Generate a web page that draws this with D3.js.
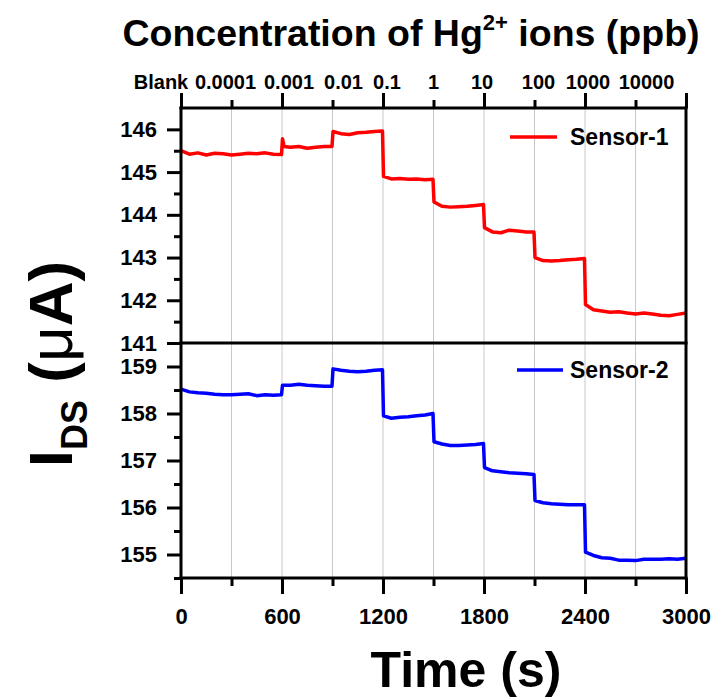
<!DOCTYPE html>
<html>
<head>
<meta charset="utf-8">
<script src="https://cdn.jsdelivr.net/npm/d3@7/dist/d3.min.js"></script>
<style>
  body { margin: 0; background: #fff; }
  svg { display: block; font-family: "Liberation Sans", Arial, Helvetica, sans-serif; font-weight: bold; }
</style>
</head>
<body>
<div id="chart"></div>
<script>
// time axis (s)
const times = [0, 50, 100, 150, 200, 250, 300, 350, 400, 450, 500, 550, 597,
  603, 612, 650, 700, 750, 800, 850, 897,
  903, 950, 1000, 1050, 1100, 1150, 1197,
  1203, 1250, 1300, 1350, 1400, 1450, 1497,
  1503, 1550, 1600, 1650, 1700, 1750, 1797,
  1803, 1850, 1900, 1950, 2000, 2050, 2097,
  2103, 2150, 2200, 2250, 2300, 2350, 2397,
  2403, 2450, 2500, 2550, 2600, 2650, 2700, 2750, 2800, 2850, 2900, 2950, 3000];

// I_DS of sensor-1 (uA)
const sensor1 = [145.50, 145.42, 145.45, 145.40, 145.44, 145.43, 145.40, 145.42, 145.44, 145.43, 145.45, 145.42, 145.41,
  145.78, 145.60, 145.58, 145.60, 145.56, 145.58, 145.60, 145.60,
  145.95, 145.90, 145.88, 145.92, 145.93, 145.95, 145.96,
  144.90, 144.84, 144.85, 144.83, 144.84, 144.82, 144.83,
  144.30, 144.20, 144.18, 144.19, 144.20, 144.22, 144.24,
  143.70, 143.60, 143.58, 143.64, 143.62, 143.60, 143.60,
  143.00, 142.93, 142.92, 142.93, 142.95, 142.96, 142.98,
  141.90, 141.78, 141.75, 141.72, 141.73, 141.70, 141.68, 141.70, 141.68, 141.65, 141.64, 141.67, 141.70];

// I_DS of sensor-2 (uA)
const sensor2 = [158.52, 158.46, 158.44, 158.43, 158.41, 158.40, 158.40, 158.41, 158.42, 158.38, 158.40, 158.39, 158.40,
  158.60, 158.60, 158.60, 158.62, 158.60, 158.59, 158.58, 158.58,
  158.95, 158.92, 158.90, 158.89, 158.90, 158.92, 158.93,
  157.95, 157.90, 157.92, 157.93, 157.95, 157.97, 158.00,
  157.40, 157.35, 157.32, 157.32, 157.33, 157.34, 157.36,
  156.85, 156.78, 156.76, 156.74, 156.73, 156.72, 156.70,
  156.15, 156.10, 156.08, 156.07, 156.06, 156.06, 156.06,
  155.05, 154.98, 154.93, 154.92, 154.88, 154.88, 154.87, 154.90, 154.90, 154.90, 154.91, 154.90, 154.92];

// top axis: concentration labels at each 300 s step
const concTicks = [0, 300, 600, 900, 1200, 1500, 1800, 2100, 2400, 2700];
const concLabels = ["Blank", "0.0001", "0.001", "0.01", "0.1", "1", "10", "100", "1000", "10000"];

const timeTicks = [0, 600, 1200, 1800, 2400, 3000];
const timeMinor = [300, 900, 1500, 2100, 2700];
const ticks1 = [141, 142, 143, 144, 145, 146];
const ticks2 = [155, 156, 157, 158, 159];

// small horizontal nudges so the crowded top labels do not collide
const concNudge = [-20, -6, 7, 11, 4, 0, -2, 4, 3, 11];

const W = 716, H = 698;
const pLeft = 181, pRight = 686, pTop = 108, pMid = 343, pBottom = 578;

const svg = d3.select("#chart").append("svg")
  .attr("width", W).attr("height", H);

const x = d3.scaleLinear().domain([0, 3000]).range([pLeft, pRight]);
const y1 = d3.scaleLinear().domain([141, 146.5]).range([pMid, pTop]);
const y2 = d3.scaleLinear().domain([154.5, 159.5]).range([pBottom, pMid]);

// vertical grid lines
svg.append("g").selectAll("line")
  .data(d3.range(300, 3000, 300))
  .enter().append("line")
  .attr("x1", d => x(d)).attr("x2", d => x(d))
  .attr("y1", pTop).attr("y2", pBottom)
  .attr("stroke", "#c8c8c8").attr("stroke-width", 1);

// data lines
const line1 = d3.line().x((d, i) => x(times[i])).y(d => y1(d));
const line2 = d3.line().x((d, i) => x(times[i])).y(d => y2(d));

svg.append("path").datum(sensor1)
  .attr("d", line1).attr("fill", "none")
  .attr("stroke", "#ff0000").attr("stroke-width", 3.5).attr("stroke-linejoin", "round");
svg.append("path").datum(sensor2)
  .attr("d", line2).attr("fill", "none")
  .attr("stroke", "#0000ff").attr("stroke-width", 3.5).attr("stroke-linejoin", "round");

function styleAxis(g) {
  g.selectAll("path").remove();
  g.selectAll("line").attr("stroke", "#000").attr("stroke-width", 3);
  g.selectAll("text").attr("fill", "#000").style("font-weight", "bold");
}

// left axes, top panel
svg.append("g").attr("transform", `translate(${pLeft},0)`)
  .call(d3.axisLeft(y1).tickValues(ticks1).tickFormat(d3.format("d")).tickSize(14).tickPadding(10))
  .call(styleAxis)
  .selectAll("text").style("font-size", "22px");
svg.append("g").attr("transform", `translate(${pLeft},0)`)
  .call(d3.axisLeft(y1).tickValues(d3.range(141.5, 146.5, 1)).tickFormat("").tickSize(7))
  .call(styleAxis);

// left axes, bottom panel
svg.append("g").attr("transform", `translate(${pLeft},0)`)
  .call(d3.axisLeft(y2).tickValues(ticks2).tickFormat(d3.format("d")).tickSize(14).tickPadding(10))
  .call(styleAxis)
  .selectAll("text").style("font-size", "22px");
svg.append("g").attr("transform", `translate(${pLeft},0)`)
  .call(d3.axisLeft(y2).tickValues(d3.range(154.5, 159.5, 1)).tickFormat("").tickSize(7))
  .call(styleAxis);

// bottom time axis
svg.append("g").attr("transform", `translate(0,${pBottom})`)
  .call(d3.axisBottom(x).tickValues(timeTicks).tickFormat(d3.format("d")).tickSize(16).tickPadding(14))
  .call(styleAxis)
  .selectAll("text").style("font-size", "22px");
svg.append("g").attr("transform", `translate(0,${pBottom})`)
  .call(d3.axisBottom(x).tickValues(timeMinor).tickFormat("").tickSize(8))
  .call(styleAxis);

// top concentration axis
svg.append("g").attr("transform", `translate(0,${pTop})`)
  .call(d3.axisTop(x).tickValues(timeTicks).tickFormat("").tickSize(15))
  .call(styleAxis);
svg.append("g").attr("transform", `translate(0,${pTop})`)
  .call(d3.axisTop(x).tickValues(timeMinor).tickFormat("").tickSize(8))
  .call(styleAxis);
svg.append("g").selectAll("text")
  .data(concTicks)
  .enter().append("text")
  .attr("x", (d, i) => x(d) + concNudge[i])
  .attr("y", pTop - 19)
  .attr("text-anchor", "middle")
  .style("font-size", "20px")
  .text((d, i) => concLabels[i]);

// frame
const frame = svg.append("g").attr("stroke", "#000").attr("stroke-width", 3);
[[pLeft, pTop, pLeft, pBottom], [pRight, pTop, pRight, pBottom], [pLeft, pTop, pRight, pTop],
 [pLeft, pMid, pRight, pMid], [pLeft, pBottom, pRight, pBottom]].forEach(l => {
  frame.append("line").attr("x1", l[0]).attr("y1", l[1]).attr("x2", l[2]).attr("y2", l[3])
    .attr("stroke-linecap", "square");
});

// legends
svg.append("line").attr("x1", 510).attr("x2", 557).attr("y1", 137).attr("y2", 137)
  .attr("stroke", "#ff0000").attr("stroke-width", 3.5);
svg.append("text").attr("x", 570).attr("y", 145).style("font-size", "23px").text("Sensor-1");
svg.append("line").attr("x1", 517).attr("x2", 563).attr("y1", 370).attr("y2", 370)
  .attr("stroke", "#0000ff").attr("stroke-width", 3.5);
svg.append("text").attr("x", 570).attr("y", 378).style("font-size", "23px").text("Sensor-2");

// titles
const t1 = svg.append("text").attr("x", 411).attr("y", 46)
  .attr("text-anchor", "middle").style("font-size", "37.5px");
t1.append("tspan").text("Concentration of Hg");
t1.append("tspan").attr("dy", -16).style("font-size", "22px").text("2+");
t1.append("tspan").attr("dy", 16).text(" ions (ppb)");

const t2 = svg.append("text")
  .attr("transform", "translate(72,364) rotate(-90)")
  .attr("text-anchor", "middle").style("font-size", "62px");
t2.append("tspan").text("I");
t2.append("tspan").attr("dy", 15).style("font-size", "36px").text("DS");
t2.append("tspan").attr("dy", -15).text(" (");
t2.append("tspan").style("font-weight", "normal").text("\u03bc");
t2.append("tspan").text("A)");

svg.append("text").attr("x", 466).attr("y", 687)
  .attr("text-anchor", "middle").style("font-size", "50px").text("Time (s)");
</script>
</body>
</html>
